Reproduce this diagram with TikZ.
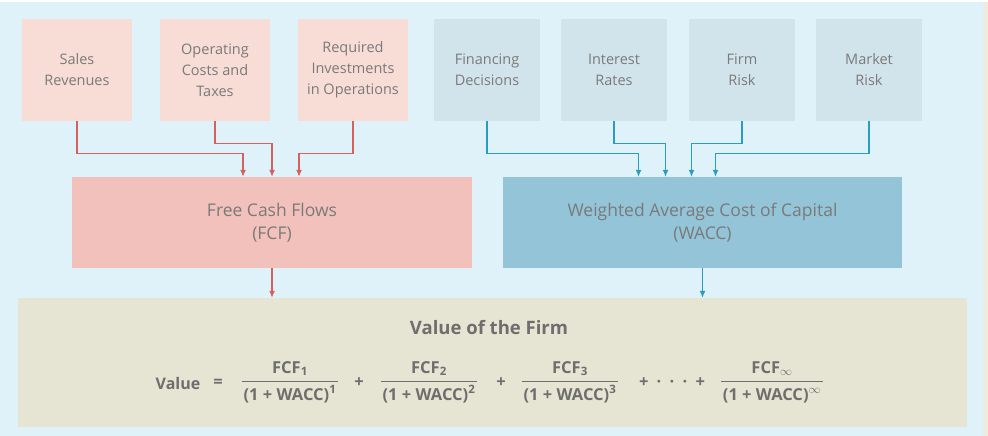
\documentclass[tikz,border=0pt]{standalone}
\usepackage{fontspec}
\setmainfont{Open Sans}
\usepackage{colortbl}
\usetikzlibrary{arrows.meta}
\definecolor{bgblue}{HTML}{E0F2F9}
\definecolor{pinkbox}{HTML}{F8DDD6}
\definecolor{greybox}{HTML}{D2E4EB}
\definecolor{fcfbox}{HTML}{F2C1BB}
\definecolor{waccbox}{HTML}{93C4D7}
\definecolor{valbox}{HTML}{E6E5D3}
\definecolor{redline}{HTML}{D6605B}
\definecolor{blueline}{HTML}{2A9DBF}
\definecolor{txt}{HTML}{7A7A7A}
\definecolor{eqtxt}{HTML}{6E6E6E}
\definecolor{strip}{HTML}{EEEBE0}
\newcommand\fracbox[2]{{\setlength\arrayrulewidth{1.6pt}\arrayrulecolor{eqtxt}\begin{tabular}{@{\hspace{2pt}}c@{\hspace{2pt}}}#1\\[2pt]\hline\rule{0pt}{18pt}#2\end{tabular}}}
\begin{document}
\begin{tikzpicture}[x=1pt,y=-1pt,
  inbox/.style={draw=none,inner sep=0pt,align=center,text=txt,
    font=\fontsize{14.5}{21}\selectfont,minimum height=102pt},
  pinkin/.style={inbox,fill=pinkbox,minimum width=110pt},
  greyin/.style={inbox,fill=greybox,minimum width=106pt},
  midbox/.style={inner sep=0pt,align=center,text=txt,
    font=\fontsize{17.5}{23}\selectfont,minimum width=400pt,minimum height=91pt},
  redarr/.style={draw=redline,line width=1.2pt,-{Latex[length=7pt,width=6pt]}},
  bluearr/.style={draw=blueline,line width=1.2pt,-{Latex[length=7pt,width=6pt]}},
  eq/.style={inner sep=0pt,text=eqtxt,font=\fontsize{16.5}{18}\selectfont\bfseries}
]
\useasboundingbox (0,0) rectangle (988,436);
\fill[white] (0,0) rectangle (988,436);
\fill[bgblue] (0,2) rectangle (983,436);
\fill[strip] (983,2) rectangle (988,436);

% top inputs
\node[pinkin] (sales) at (77,70) {Sales\\Revenues};
\node[pinkin] (opcost) at (215,70) {Operating\\Costs and\\Taxes};
\node[pinkin] (reqinv) at (353,70) {Required\\Investments\\in Operations};
\node[greyin] (fin) at (487,70) {Financing\\Decisions};
\node[greyin] (intr) at (614,70) {Interest\\Rates};
\node[greyin] (frisk) at (742,70) {Firm\\Risk};
\node[greyin] (mrisk) at (869,70) {Market\\Risk};

% middle
\node[midbox,fill=fcfbox] (fcf) at (272,222.5) {Free Cash Flows\\(FCF)};
\node[midbox,fill=waccbox,minimum width=399pt] (wacc) at (702.5,222.5) {Weighted Average Cost of Capital\\(WACC)};

% bottom
\node[fill=valbox,minimum width=949pt,minimum height=129pt,inner sep=0pt] (val) at (492.5,362.5) {};
\node[text=eqtxt,font=\fontsize{18.5}{20}\selectfont\bfseries,inner sep=0pt] (valtitle) at (489,328) {Value of the Firm};

\node[eq,font=\fontsize{16}{18}\selectfont\bfseries] (vword) at (178,383) {Value};
\node[eq] (eqsign) at (218,383) {=};
\node[eq] (f1) at (290,383) {\fracbox{FCF\textsubscript{1}}{(1 + WACC)\textsuperscript{1}}};
\node[eq] (p1) at (359,383) {+};
\node[eq] (f2) at (429,383) {\fracbox{FCF\textsubscript{2}}{(1 + WACC)\textsuperscript{2}}};
\node[eq] (p2) at (501,383) {+};
\node[eq] (f3) at (570,383) {\fracbox{FCF\textsubscript{3}}{(1 + WACC)\textsuperscript{3}}};
\node[eq] (dots) at (672,383) {+\enspace\textperiodcentered\enspace\textperiodcentered\enspace\textperiodcentered\enspace+};
\node[eq] (f4) at (772,383) {\fracbox{FCF\textsubscript{$\infty$}}{(1 + WACC)\textsuperscript{$\infty$}}};

% red connectors
\draw[redarr] (sales.south) -- ++(0,32) -| ([xshift=-29pt]fcf.north);
\draw[redarr] (opcost.south) -- ++(0,22) -| (fcf.north);
\draw[redarr] (reqinv.south) -- ++(0,32) -| ([xshift=27pt]fcf.north);
\draw[redarr] (fcf.south) -- (fcf.south |- val.north);

% blue connectors
\draw[bluearr] (fin.south) -- ++(0,32) -| ([xshift=-64pt]wacc.north);
\draw[bluearr] (intr.south) -- ++(0,22) -| ([xshift=-37pt]wacc.north);
\draw[bluearr] (frisk.south) -- ++(0,22) -| ([xshift=-11pt]wacc.north);
\draw[bluearr] (mrisk.south) -- ++(0,32) -| ([xshift=13pt]wacc.north);
\draw[bluearr] (wacc.south) -- (wacc.south |- val.north);
\end{tikzpicture}
\end{document}
